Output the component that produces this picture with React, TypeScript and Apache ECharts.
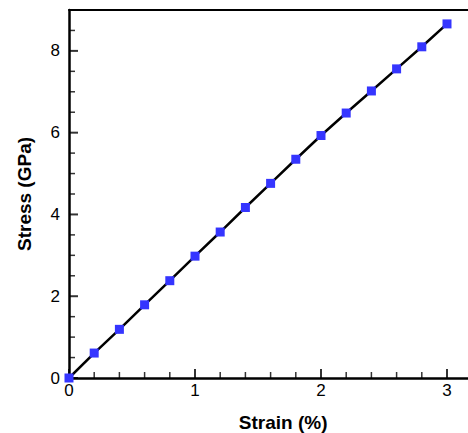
import React, { useEffect, useRef } from "react";
import * as echarts from "echarts";

const strain = [0, 0.2, 0.4, 0.6, 0.8, 1.0, 1.2, 1.4, 1.6, 1.8, 2.0, 2.2, 2.4, 2.6, 2.8, 3.0];
const stress = [0, 0.61, 1.19, 1.79, 2.38, 2.98, 3.57, 4.17, 4.76, 5.35, 5.93, 6.48, 7.02, 7.56, 8.1, 8.66];

const xMajorTicks = [0, 1, 2, 3];
const xMinorTicks = [0.2, 0.4, 0.6, 0.8, 1.2, 1.4, 1.6, 1.8, 2.2, 2.4, 2.6, 2.8, 3.2];
const yMajorTicks = [0, 2, 4, 6, 8];
const yMinorTicks = [0.5, 1, 1.5, 2.5, 3, 3.5, 4.5, 5, 5.5, 6.5, 7, 7.5, 8.5];

const GRID_W = 428.4;
const GRID_H = 368;

export default function App() {
  const ref = useRef<HTMLDivElement>(null);
  useEffect(() => {
    document.body.style.margin = "0";
    const chart = echarts.init(ref.current!, null, { renderer: "svg" });
    const font = "Liberation Sans, Arial, sans-serif";
    const tickSeries = (data: number[][], size: number[], offset: number[]) => ({
      type: "scatter",
      xAxisIndex: 0,
      yAxisIndex: 0,
      data,
      symbol: "rect",
      symbolSize: size,
      symbolOffset: offset,
      clip: false,
      silent: true,
      z: 4,
      itemStyle: { color: "#000" },
    });
    chart.setOption({
      animation: false,
      grid: { left: 69, top: 10, height: GRID_H, width: GRID_W, containLabel: false, outerBoundsMode: "none" },
      xAxis: [
        {
          type: "value",
          min: 0,
          max: 3.4,
          interval: 1,
          name: "Strain (%)",
          nameLocation: "middle",
          nameGap: 35,
          nameTextStyle: { fontFamily: font, fontWeight: "bold", fontSize: 19, color: "#000" },
          axisLine: { show: true, lineStyle: { color: "#000", width: 2.5 } },
          axisTick: { show: false },
          axisLabel: { margin: 4, fontFamily: font, fontSize: 17, color: "#000", showMaxLabel: false },
          splitLine: { show: false },
        },
        {
          type: "value",
          position: "top",
          min: 0,
          max: 3.4,
          axisLine: { show: true, onZero: false, lineStyle: { color: "#000", width: 2 } },
          axisTick: { show: false },
          axisLabel: { show: false },
          splitLine: { show: false },
        },
      ],
      yAxis: {
        type: "value",
        min: 0,
        max: 9,
        interval: 2,
        name: "Stress (GPa)",
        nameLocation: "middle",
        nameGap: 35,
        nameTextStyle: { fontFamily: font, fontWeight: "bold", fontSize: 19, color: "#000" },
        axisLine: { show: true, lineStyle: { color: "#000", width: 2.5 } },
        axisTick: { show: false },
        axisLabel: { margin: 9, fontFamily: font, fontSize: 17, color: "#000", showMaxLabel: false },
        splitLine: { show: false },
      },
      series: [
        tickSeries(xMajorTicks.map((v) => [v, 0]), [2, 9], [0, -4.5]),
        tickSeries(xMinorTicks.map((v) => [v, 0]), [1.5, 6], [0, -3]),
        tickSeries(yMajorTicks.map((v) => [0, v]), [9, 2], [4.5, 0]),
        tickSeries(yMinorTicks.map((v) => [0, v]), [6, 1.5], [3, 0]),
        {
          type: "line",
          xAxisIndex: 0,
          yAxisIndex: 0,
          data: strain.map((x, i) => [x, stress[i]]),
          symbol: "rect",
          symbolSize: 9,
          clip: false,
          z: 6,
          lineStyle: { color: "#000", width: 2.5 },
          itemStyle: { color: "#3535ff" },
        },
      ],
    });
    return () => chart.dispose();
  }, []);
  return <div ref={ref} style={{ width: 468, height: 433 }} />;
}
